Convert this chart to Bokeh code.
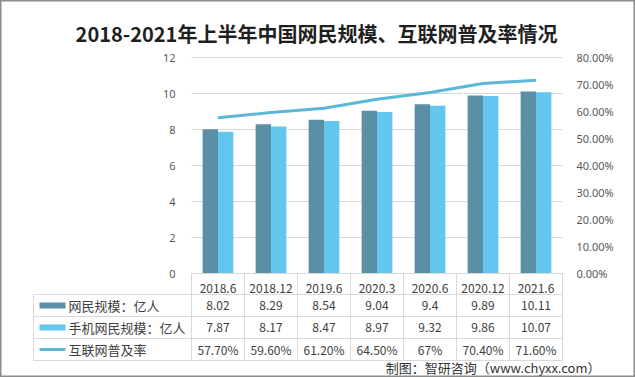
from bokeh.plotting import figure
from bokeh.models import (Range1d, LinearAxis, FixedTicker, NumeralTickFormatter,
                          ColumnDataSource)
from bokeh.transform import dodge
from bokeh.embed import file_html
from bokeh.resources import INLINE
from bokeh.core.properties import value

# ---------------- data ----------------
categories = ["2018.6", "2018.12", "2019.6", "2020.3", "2020.6", "2020.12", "2021.6"]
netizens = [8.02, 8.29, 8.54, 9.04, 9.4, 9.89, 10.11]
mobile_netizens = [7.87, 8.17, 8.47, 8.97, 9.32, 9.86, 10.07]
penetration = [0.577, 0.596, 0.612, 0.645, 0.67, 0.704, 0.716]
netizens_txt = ["8.02", "8.29", "8.54", "9.04", "9.4", "9.89", "10.11"]
mobile_txt = ["7.87", "8.17", "8.47", "8.97", "9.32", "9.86", "10.07"]
penetration_txt = ["57.70%", "59.60%", "61.20%", "64.50%", "67%", "70.40%", "71.60%"]
series_names = ["网民规模：亿人", "手机网民规模：亿人", "互联网普及率"]
left_ticks = [0, 2, 4, 6, 8, 10, 12]
right_ticks = [0, 0.1, 0.2, 0.3, 0.4, 0.5, 0.6, 0.7, 0.8]
title_text = "2018-2021年上半年中国网民规模、互联网普及率情况"
source_text = "制图：智研咨询（www.chyxx.com）"

DARK = "#5b8fa6"
LIGHT = "#62c6ee"
LINE = "#5bb8d6"
GRID = "#d9d9d9"
TXT = "#404040"
CJK = "Noto Sans CJK SC"

n = len(categories)
centers = [i + 0.5 for i in range(n)]
YMAX = 12
PMAX = 0.8

W, H = 635, 377
FL, FR, FT, FB = 191, 562, 57, 273      # plot-area edges in page px
ppx = (FR - FL) / n
ppy = (FB - FT) / YMAX
ppp = (FB - FT) / PMAX


def xd(px):  # page px -> x data
    return (px - FL) / ppx


def yd(py):  # page px -> y data
    return (FB - py) / ppy


p = figure(width=W, height=H, output_backend="svg", toolbar_location=None,
           x_range=Range1d(xd(0), xd(W)), y_range=Range1d(yd(H), yd(0)),
           min_border=0, x_axis_type=None, y_axis_type=None)
p.title.visible = False
p.outline_line_color = "#8c8c8c"
p.outline_line_width = 2
p.background_fill_color = "white"
p.border_fill_color = "white"
p.xgrid.visible = False
p.ygrid.visible = False
p.extra_y_ranges = {"pct": Range1d(-(H - FB) / ppp, PMAX + FT / ppp)}

# horizontal gridlines across the plot area
p.segment(x0=[0] * len(left_ticks), x1=[n] * len(left_ticks), y0=left_ticks, y1=left_ticks,
          line_color=GRID, line_width=1)

src = ColumnDataSource(dict(x=centers, net=netizens, mob=mobile_netizens, pct=penetration))
p.vbar(x=dodge("x", -0.145, range=p.x_range), top="net", width=0.29, source=src,
       fill_color=DARK, line_color=None)
p.vbar(x=dodge("x", 0.145, range=p.x_range), top="mob", width=0.29, source=src,
       fill_color=LIGHT, line_color=None)
p.line(x="x", y="pct", source=src, y_range_name="pct", line_color=LINE, line_width=3)

yl = LinearAxis(ticker=FixedTicker(ticks=left_ticks), fixed_location=0)
yl.axis_line_color = None
yl.major_tick_line_color = None
yl.minor_tick_line_color = None
yl.major_label_standoff = 10
yl.major_label_text_font = "Noto Sans"
yl.major_label_text_font_size = "11px"
yl.major_label_text_color = "#595959"
p.add_layout(yl, "left")

yr = LinearAxis(y_range_name="pct", ticker=FixedTicker(ticks=right_ticks),
                formatter=NumeralTickFormatter(format="0.00%"), fixed_location=n)
yr.axis_line_color = None
yr.major_tick_line_color = None
yr.minor_tick_line_color = None
yr.major_label_standoff = 8
yr.major_label_text_font = "Noto Sans"
yr.major_label_text_font_size = "11px"
yr.major_label_text_color = "#595959"
p.add_layout(yr, "right")

ROW = 22
xb = LinearAxis(ticker=FixedTicker(ticks=centers), fixed_location=0, bounds=(0, n))
xb.major_label_overrides = {c: cat for c, cat in zip(centers, categories)}
xb.axis_line_color = GRID
xb.major_tick_line_color = None
xb.minor_tick_line_color = None
xb.major_label_standoff = 4
xb.major_label_text_font = CJK
xb.major_label_text_font_size = "12px"
xb.major_label_text_color = TXT
p.add_layout(xb, "below")

# ---------------- title ----------------
p.text(x=[xd(316)], y=[yd(33)], text=[title_text], text_align="center",
       text_baseline="middle", text_font=value(CJK), text_font_size="20px",
       text_font_style="bold", text_color="#1f1f1f")

# ---------------- data table ----------------
rows = 3
top = FB + ROW - 1
row_y = [yd(top + ROW * k) for k in range(rows + 1)]
row_c = [yd(top + ROW * k + ROW / 2) for k in range(rows)]
left_edge = xd(33)

vx = list(range(n + 1))
p.segment(x0=[left_edge] * (rows + 1), x1=[n] * (rows + 1), y0=row_y, y1=row_y,
          line_color=GRID, line_width=1)
p.segment(x0=vx + [left_edge], x1=vx + [left_edge],
          y0=[0] * len(vx) + [row_y[0]], y1=[row_y[-1]] * (len(vx) + 1),
          line_color=GRID, line_width=1)

row_texts = [netizens_txt, mobile_txt, penetration_txt]
for k, vals in enumerate(row_texts):
    p.text(x=centers, y=[row_c[k]] * n, text=vals, text_align="center",
           text_baseline="middle", text_font=value(CJK), text_font_size="12px",
           text_color=TXT)

sw0, sw1 = xd(39), xd(65)
for k, (col, lw) in enumerate([(DARK, 6), (LIGHT, 6), (LINE, 3)]):
    p.segment(x0=[sw0], x1=[sw1], y0=[row_c[k]], y1=[row_c[k]], line_color=col,
              line_width=lw)

p.text(x=[xd(68)] * rows, y=row_c, text=series_names, text_align="left",
       text_baseline="middle", text_font=value(CJK), text_font_size="13px",
       text_color=TXT)

p.text(x=[xd(600)], y=[yd(367)], text=[source_text], text_align="right",
       text_baseline="middle", text_font=value(CJK), text_font_size="13px",
       text_color="#333333")

open("out.html", "w").write(file_html(p, INLINE))
